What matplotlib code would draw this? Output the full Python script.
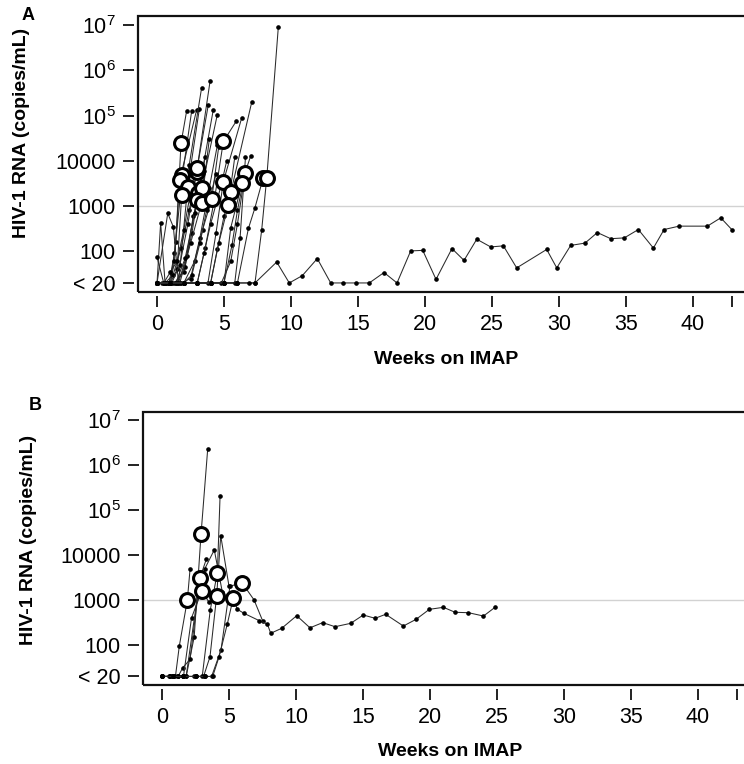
import matplotlib
matplotlib.use("Agg")
import matplotlib.pyplot as plt
from matplotlib.patches import Rectangle

plt.rcParams['font.family'] = ['Liberation Sans', 'DejaVu Sans']
plt.rcParams['mathtext.default'] = 'regular'

LOD = 20  # values below detection are drawn at "< 20"

# panel A: weeks on IMAP and HIV-1 RNA per patient
a_weeks = [
    [0, 0.5, 1.0, 1.4, 1.79, 2.21],
    [0, 0.4, 0.9, 1.3, 1.9, 2.59],
    [0, 0.27, 0.6, 1.0, 1.3, 1.7, 2.96],
    [0, 0.8, 1.22, 1.6, 2.29, 3.16],
    [0, 0.5, 1.0, 1.5, 1.84, 2.4, 3.33],
    [0, 0.6, 1.2, 1.8, 2.4, 2.96, 3.96],
    [0, 0.5, 1.1, 1.7, 2.3, 3.0, 3.83],
    [0, 0.7, 1.3, 2.0, 2.6, 3.08, 4.2],
    [0, 0.6, 1.4, 2.1, 2.7, 3.33, 4.5],
    [0, 0.8, 1.6, 2.2, 2.96, 3.6],
    [0, 0.9, 1.7, 2.5, 3.33, 3.9],
    [0, 1.0, 2.0, 2.8, 3.4, 4.08, 4.6],
    [0, 1, 2, 3, 3.6, 4.3, 4.95, 5.9],
    [0, 1, 2, 3, 3.8, 4.4, 4.95, 6.32],
    [0, 1, 2, 3, 4, 4.5, 5.0, 5.52, 7.07],
    [0, 1, 2, 3, 4, 4.6, 5.32, 5.8],
    [0, 1, 2, 3, 4, 5, 5.6, 6.0, 6.57, 7.0],
    [0, 1, 2, 3, 4, 5, 5.5, 6.34],
    [0, 1, 2, 3, 4, 5, 6, 6.82, 7.3, 7.93],
    [0, 1, 2, 3, 4, 5, 6, 7.31, 7.81, 8.19, 9.05],
    [0, 0.5, 1.0, 1.5, 2.0, 2.5, 3.0],
    [0, 0.7, 1.4, 2.1, 2.8, 3.5],
    [0, 1, 1.8, 2.5, 3.2, 3.9, 4.5],
    [0, 1, 2, 2.6, 3.2, 3.7, 4.4],
    [0, 1, 2, 3, 3.5, 4.0, 4.8, 5.2],
    [0, 1, 2, 3, 4, 4.8, 5.5, 6.0, 6.4],
    [0, 1, 2, 3, 4, 5, 5.8, 6.2, 6.6],
    [0, 1, 2, 3, 4, 5, 6, 6.9, 7.31, 8.93, 9.87, 10.84, 11.96, 12.96, 13.85,
     14.85, 15.84, 16.94, 17.91, 18.93, 19.83, 20.82, 22.01, 22.91, 23.86,
     24.9, 25.85, 26.84, 29.08, 29.83, 30.87, 31.94, 32.86, 33.86, 34.87,
     35.92, 37.04, 37.84, 38.96, 41.07, 42.07, 42.89],
]
a_rna = [
    [20, 20, 20, 160, 24500, 127000],
    [20, 20, 20, 90, 4900, 129000],
    [20, 425, 20, 20, 60, 3800, 135000],
    [20, 690, 345, 20, 2700, 141000],
    [74, 20, 20, 40, 1750, 8000, 415000],
    [20, 20, 30, 120, 800, 5800, 580000],
    [20, 20, 20, 50, 400, 7000, 175000],
    [20, 20, 20, 35, 250, 1900, 135000],
    [20, 20, 20, 45, 600, 2500, 105000],
    [20, 20, 20, 80, 1360, 12000],
    [20, 20, 20, 150, 1180, 30000],
    [20, 20, 20, 60, 300, 1430, 20000],
    [20, 20, 20, 20, 120, 1500, 26800, 74000],
    [20, 20, 20, 20, 20, 250, 3470, 89000],
    [20, 20, 20, 20, 20, 110, 600, 2080, 200000],
    [20, 20, 20, 20, 20, 150, 1050, 12000],
    [20, 20, 20, 20, 20, 20, 140, 800, 5500, 13000],
    [20, 20, 20, 20, 20, 20, 330, 3200],
    [20, 20, 20, 20, 20, 20, 20, 320, 900, 4270],
    [20, 20, 20, 20, 20, 20, 20, 20, 295, 4270, 8900000],
    [20, 20, 35, 60, 300, 2000, 9000],
    [20, 20, 20, 70, 700, 6000],
    [20, 20, 20, 25, 200, 2500, 22000],
    [20, 20, 20, 30, 150, 800, 5000],
    [20, 20, 20, 20, 90, 400, 3000, 10000],
    [20, 20, 20, 20, 20, 20, 60, 400, 2500],
    [20, 20, 20, 20, 20, 20, 20, 200, 12000],
    [20, 20, 20, 20, 20, 20, 20, 20, 20, 58, 20, 29, 69, 20, 20,
     20, 20, 34, 20, 102, 105, 24, 115, 63, 185,
     125, 132, 43, 110, 43, 135, 152, 260, 190, 198,
     303, 118, 303, 360, 360, 550, 303],
]
# index of the rebound point (open circle), None = no circle
a_rebound = [4, 4, 5, 4, 4, 5, 5, 5, 5, 4, 4, 5, 6, 6, 7, 6, 8, 7, 9, 9,
             None, None, None, None, None, None, None, None]

# panel B
b_weeks = [
    [0, 0.5, 1.0, 1.29, 1.89, 2.09],
    [0, 0.6, 1.2, 1.8, 2.4, 2.91, 3.41],
    [0, 0.6, 1.2, 1.54, 2.09, 2.84, 3.3],
    [0, 0.8, 1.6, 2.2, 2.96, 3.5],
    [0, 0.8, 1.6, 2.4, 3.0, 3.6, 4.13, 4.33],
    [0, 0.8, 1.6, 2.5, 3.1, 3.58, 4.08, 4.38, 5.0],
    [0, 0.8, 1.6, 2.5, 3.2, 3.7, 4.4, 5.07, 6.0, 6.87, 7.5],
    [0, 0.6, 1.2, 1.8, 2.71, 3.2, 3.9, 4.5],
    [0, 0.8, 1.6, 2.5, 3.2, 3.78, 4.25, 4.88, 5.32, 5.62, 6.12, 7.27, 7.86,
     8.11, 8.93, 10.05, 11.04, 11.99, 12.91, 14.08, 15.02, 15.9, 16.69,
     18.01, 18.96, 19.95, 21.0, 21.87, 22.87, 23.99, 24.85],
]
b_rna = [
    [20, 20, 20, 95, 1000, 4800],
    [20, 20, 20, 20, 150, 29000, 2300000],
    [20, 20, 20, 31, 48, 3130, 8000],
    [20, 20, 20, 400, 1580, 900],
    [20, 20, 20, 20, 20, 600, 4050, 200000],
    [20, 20, 20, 20, 20, 55, 1250, 27000, 2000],
    [20, 20, 20, 20, 20, 20, 77, 2050, 2350, 1000, 350],
    [20, 20, 20, 20, 1670, 5000, 13000, 1500],
    [20, 20, 20, 20, 20, 20, 54, 300, 1120, 620, 505, 346, 293,
     182, 235, 448, 241, 314, 255, 303, 464, 392, 481,
     264, 372, 620, 688, 533, 522, 440, 688],
]
b_rebound = [4, 5, 5, 4, 6, 6, 8, None, 8]

x_ticks = [0, 5, 10, 15, 20, 25, 30, 35, 40, 42.9]
x_labels = ['0', '5', '10', '15', '20', '25', '30', '35', '40', '']
y_ticks = [20, 100, 1000, 10000, 1e5, 1e6, 1e7]
y_labels = ['< 20', '100', '1000', '10000',
            r'$10^5$', r'$10^6$', r'$10^7$']

W, H = 744, 764
fig = plt.figure(figsize=(W / 100, H / 100), dpi=100)


def panel(rect, weeks, rna, rebound, ylim, letter, letter_xy, ylab_xy, xlab_xy):
    ax = fig.add_axes(rect)
    ax.set_yscale('log')
    ax.set_xlim(-1.42, 44.55)
    ax.set_ylim(*ylim)
    ax.axhline(1000, color='#d2d2d2', lw=1.0, zorder=1)
    for w, v in zip(weeks, rna):
        ax.plot(w, v, color='#2a2a2a', lw=0.75, marker='o', ms=2.3,
                mfc='black', mec='black', zorder=2)
    for w, v, r in zip(weeks, rna, rebound):
        if r is not None:
            ax.plot(w[r], v[r], 'o', ms=10, mfc='white', mec='black',
                    mew=2.2, zorder=3)
    for s in ax.spines.values():
        s.set_visible(False)
    ax.spines['left'].set_position(('outward', 3))
    ax.spines['bottom'].set_position(('outward', 3))
    ax.add_patch(Rectangle((0, 0), 1, 1, transform=ax.transAxes, fill=False,
                           lw=1.6, ec='#111111', clip_on=False, zorder=4))
    ax.set_xticks(x_ticks, x_labels)
    ax.set_yticks(y_ticks, y_labels)
    ax.minorticks_off()
    ax.tick_params(axis='both', length=8, width=1.3, labelsize=15.5, pad=5,
                   color='#111111')
    fig.text(letter_xy[0] / W, 1 - letter_xy[1] / H, letter, fontsize=13,
             fontweight='bold', ha='center', va='center')
    fig.text(ylab_xy[0] / W, 1 - ylab_xy[1] / H, 'HIV-1 RNA (copies/mL)',
             rotation=90, fontsize=14, fontweight='bold', ha='center', va='center')
    fig.text(xlab_xy[0] / W, 1 - xlab_xy[1] / H, 'Weeks on IMAP',
             fontsize=14, fontweight='bold', ha='center', va='center')
    return ax


panel([138 / W, 1 - 292 / H, 616 / W, 276 / H], a_weeks, a_rna, a_rebound,
      (10 ** 1.101, 10 ** 7.2), 'A', (28, 16), (22, 133), (446, 360))
panel([143 / W, 1 - 685 / H, 616 / W, 273 / H], b_weeks, b_rna, b_rebound,
      (10 ** 1.111, 10 ** 7.178), 'B', (35, 405), (29, 540), (450, 752))

fig.savefig('out.png', dpi=100)
